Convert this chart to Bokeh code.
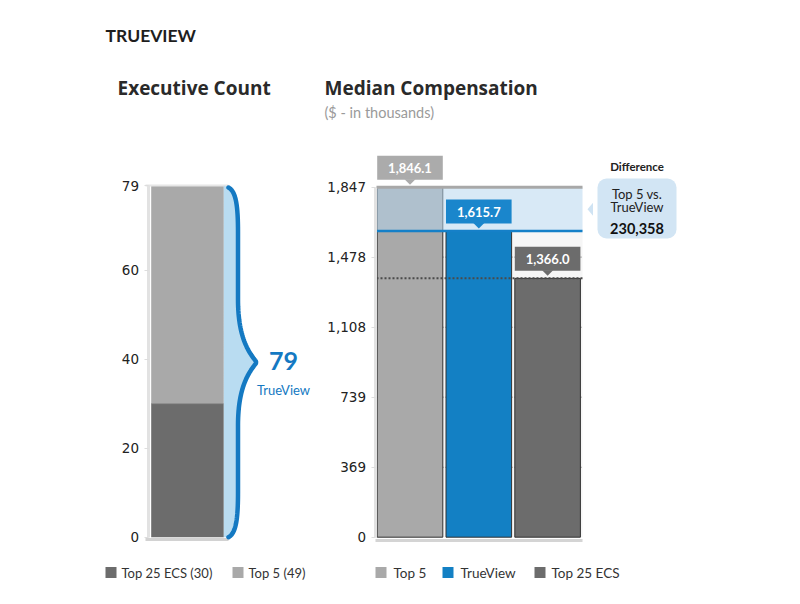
from bokeh.plotting import figure
from bokeh.models import Range1d, LinearAxis, FixedTicker, NumeralTickFormatter
from bokeh.core.properties import value
from bokeh.embed import file_html
from bokeh.resources import INLINE
import numpy as np

# ---------------- data ----------------
count_categories = ["Top 25 ECS", "Top 5"]
count_values = [30, 49]
count_total_label = "79"
count_ticks = [0, 20, 40, 60, 79]

comp_categories = ["Top 5", "TrueView", "Top 25 ECS"]
comp_values = [1846.1, 1615.7, 1366.0]
comp_ticks = [0, 369, 739, 1108, 1478, 1847]
difference_label = "230,358"

# ---------------- layout constants (page pixels) ----------------
W, H = 784, 588
PAGE_TOP, PAGE_BOTTOM = 0, H
ZERO_PX = 536.7
COMP_TOP_PX = 186.7
COUNT_TOP_PX = 185.0
comp_max = comp_ticks[-1]
count_total = sum(count_values)
k_comp = (ZERO_PX - COMP_TOP_PX) / comp_max
k_count = (ZERO_PX - COUNT_TOP_PX) / count_total


def py_comp(v):
    return ZERO_PX - v * k_comp


def py_count(v):
    return ZERO_PX - v * k_count


FONT = value("Lato")
TFONT = value("Open Sans")
TICKFONT = "DejaVu Sans"
GRAY_L = "#a9a9a9"
GRAY_D = "#6c6c6c"
BLUE = "#1380c4"

p = figure(width=W, height=H, output_backend="svg", toolbar_location=None,
           x_range=Range1d(0, W),
           y_range=Range1d(-(PAGE_BOTTOM - ZERO_PX) / k_comp, (ZERO_PX - PAGE_TOP) / k_comp),
           x_axis_type=None, y_axis_type=None, min_border=0)
p.outline_line_color = None
p.grid.visible = False
p.extra_y_ranges = {
    "count": Range1d(-(PAGE_BOTTOM - ZERO_PX) / k_count, (ZERO_PX - PAGE_TOP) / k_count),
    "px": Range1d(PAGE_BOTTOM, PAGE_TOP),
}

# ---------------- axes ----------------
LEFT_AXIS_X = 147.5
RIGHT_AXIS_X = 374.5
ax_count = LinearAxis(y_range_name="count", fixed_location=LEFT_AXIS_X, bounds=(0, count_total),
                      ticker=FixedTicker(ticks=count_ticks))
ax_comp = LinearAxis(fixed_location=RIGHT_AXIS_X, bounds=(0, comp_max),
                     ticker=FixedTicker(ticks=comp_ticks),
                     formatter=NumeralTickFormatter(format="0,0"))
for ax in (ax_count, ax_comp):
    ax.axis_line_color = "#e2e2e2"
    ax.axis_line_width = 3
    ax.major_tick_line_color = "#dddddd"
    ax.major_tick_out = 4
    ax.major_tick_in = 0
    ax.minor_tick_line_color = None
    ax.major_label_text_font = TICKFONT
    ax.major_label_text_font_size = "13.5px"
    ax.major_label_text_color = "#222222"
    ax.major_label_standoff = 5
p.add_layout(ax_count, "left")
p.add_layout(ax_comp, "left")

# ---------------- left chart: executive count ----------------
LX = 187.0
LBW = 72.6
bottoms = [0, count_values[0]]
tops = [count_values[0], count_values[0] + count_values[1]]
p.vbar(x=[LX, LX], width=LBW, bottom=bottoms, top=tops, fill_color=[GRAY_D, GRAY_L],
       line_color=None, y_range_name="count")
p.segment(x0=[LX - LBW / 2], x1=[LX + LBW / 2], y0=[count_values[0]], y1=[count_values[0]],
          line_color="#8a8a8a", line_width=1, y_range_name="count")
p.segment(x0=[145, 145], x1=[228, 228], y0=[py_count(count_total), 539],
          y1=[py_count(count_total), 539], line_color=["#e6e6e6", "#d2d2d2"],
          line_width=[2, 3], y_range_name="px")


def cubic(p0, p1, p2, p3, n=30):
    t = np.linspace(0, 1, n)[:, None]
    pts = ((1 - t) ** 3) * np.array(p0) + 3 * ((1 - t) ** 2) * t * np.array(p1) \
        + 3 * (1 - t) * t ** 2 * np.array(p2) + t ** 3 * np.array(p3)
    return pts


ytop = py_count(count_total) + 2
ybot = py_count(0)
ymid = py_count(count_total / 2)
x0b, xb, xt = 228.0, 237.5, 255.5
top_half = np.vstack([
    cubic((x0b, ytop), (235.5, ytop + 4), (xb, ytop + 18), (xb, ytop + 45)),
    cubic((xb, ymid - 62), (xb, ymid - 25), (xt - 8, ymid - 10), (xt, ymid)),
])
bot_half = top_half[::-1].copy()
bot_half[:, 1] = 2 * ymid - bot_half[:, 1]
bot_half[:, 1] += (ybot - (2 * ymid - ytop))
brace = np.vstack([top_half, bot_half])
fill_x = [LX + LBW / 2] + list(brace[:, 0]) + [LX + LBW / 2]
fill_y = [ytop - 2] + list(brace[:, 1]) + [ybot]
p.patch(fill_x, fill_y, fill_color="#b9dcf1", line_color=None, y_range_name="px")
p.line(brace[:, 0], brace[:, 1], line_color="#1479c2", line_width=4.5, line_cap="round",
       y_range_name="px")
p.text(x=[283], y=[py_count(count_total / 2)], text=[count_total_label], text_font=FONT,
       text_font_style="bold", text_font_size="25px", text_color="#1479c2",
       text_align="center", text_baseline="middle", y_range_name="px")
p.text(x=[283], y=[py_count(count_total / 2) + 29], text=["TrueView"], text_font=FONT,
       text_font_size="13px", text_color="#1479c2", text_align="center",
       text_baseline="middle", y_range_name="px")

# ---------------- right chart: median compensation ----------------
RX0, RX1 = 376.0, 582.0
BW, STEP = 65.6, 68.8
centers = [RX0 + 0.7 + BW / 2 + i * STEP for i in range(len(comp_values))]
colors = [GRAY_L, BLUE, GRAY_D]
top5, tv, ecs = comp_values

p.quad(left=[RX0], right=[RX1], bottom=[0], top=[tv], fill_color="#f6f6f6", line_color=None)
p.segment(x0=[RX0] * 4, x1=[RX1] * 4, y0=comp_ticks[1:5], y1=comp_ticks[1:5],
          line_color="#666666", line_width=1, line_dash="1 2")
p.vbar(x=centers, width=BW, bottom=0, top=comp_values, fill_color=colors,
       line_color="#333333", line_width=1)
p.quad(left=[RX0], right=[RX1], bottom=[tv], top=[top5], fill_color="#b5d5ee",
       fill_alpha=0.53, line_color=None)
p.segment(x0=[RX0], x1=[RX1], y0=[ecs], y1=[ecs], line_color="#4a4a4a", line_width=2,
          line_dash="2 2")
p.segment(x0=[RX0], x1=[RX1], y0=[tv], y1=[tv], line_color="#1580c8", line_width=2.5)
p.segment(x0=[RX0], x1=[RX1], y0=[comp_max], y1=[comp_max], line_color="#a8a8a8",
          line_width=3)
p.segment(x0=[RX0 - 1], x1=[RX1], y0=[540], y1=[540], line_color="#d4d4d4", line_width=3,
          y_range_name="px")

# value callouts
box_colors = ["#ababab", "#1a86cc", "#6c6c6c"]
bx_top, bx_bot = [], []
for c, v in zip(centers, comp_values):
    yb = py_comp(v) - 7.5
    bx_bot.append(yb)
    bx_top.append(yb - 24)
p.quad(left=[c - BW / 2 for c in centers], right=[c + BW / 2 for c in centers],
       top=bx_top, bottom=bx_bot, fill_color=box_colors, line_color=None, y_range_name="px")
tx, ty = [], []
for c, yb in zip(centers, bx_bot):
    tx.append([c - 5.5, c + 5.5, c])
    ty.append([yb - 0.5, yb - 0.5, yb + 5])
p.patches(tx, ty, fill_color=box_colors, line_color=None, y_range_name="px")
p.text(x=centers, y=[(a + b) / 2 for a, b in zip(bx_top, bx_bot)],
       text=[f"{v:,.1f}" for v in comp_values], text_font=FONT, text_font_style="bold",
       text_font_size="13px", text_color="white", text_align="center",
       text_baseline="middle", y_range_name="px")

# difference callout
mid_px = py_comp((top5 + tv) / 2)
p.quad(left=[597], right=[676], top=[178], bottom=[238], fill_color="#d2e5f4",
       line_color=None, border_radius=9, y_range_name="px")
p.patch([587, 592.5, 592.5], [mid_px, mid_px - 6.5, mid_px + 6.5], fill_color="#cfe3f3",
        line_color=None, y_range_name="px")
p.text(x=[636.5], y=[166], text=["Difference"], text_font=FONT, text_font_size="11.5px",
       text_color="#222222", text_align="center", text_baseline="middle",
       text_font_style="bold", y_range_name="px")
p.text(x=[636.5, 636.5], y=[193, 206.5], text=["Top 5 vs.", "TrueView"], text_font=FONT,
       text_font_size="13px", text_color="#222222", text_align="center",
       text_baseline="middle", y_range_name="px")
p.text(x=[636.5], y=[227.5], text=[difference_label], text_font=FONT,
       text_font_size="14.5px", text_font_style="bold", text_color="#111111",
       text_align="center", text_baseline="middle", y_range_name="px")

# ---------------- titles ----------------
p.text(x=[105], y=[35], text=["TRUEVIEW"], text_font=FONT, text_font_style="bold",
       text_font_size="17.5px", text_color="#1e1e1e", text_baseline="middle",
       y_range_name="px")
p.text(x=[117, 324], y=[87, 87], text=["Executive Count", "Median Compensation"],
       text_font=TFONT, text_font_style="bold", text_font_size="19px",
       text_color="#2a2a2a", text_baseline="middle", y_range_name="px")
p.text(x=[324], y=[112], text=["($ - in thousands)"], text_font=FONT,
       text_font_size="14.5px", text_color="#9a9a9a", text_baseline="middle",
       y_range_name="px")

# ---------------- legends ----------------
LEG_Y = 572
left_leg_text = [f"{c} ({v})" for c, v in zip(count_categories, count_values)]
p.rect(x=[110.5, 237.5], y=[LEG_Y, LEG_Y], width=11, height=11, fill_color=[GRAY_D, GRAY_L],
       line_color=None, y_range_name="px")
p.text(x=[121, 248], y=[LEG_Y, LEG_Y], text=left_leg_text, text_font=FONT,
       text_font_size="13px", text_color="#333333", text_baseline="middle",
       y_range_name="px")
p.rect(x=[380.5, 447.5, 539.5], y=[LEG_Y] * 3, width=11, height=11,
       fill_color=colors, line_color=None, y_range_name="px")
p.text(x=[393, 460, 551], y=[LEG_Y] * 3, text=comp_categories, text_font=FONT,
       text_font_size="13.5px", text_color="#333333", text_baseline="middle",
       y_range_name="px")

open("out.html", "w").write(file_html(p, INLINE))
